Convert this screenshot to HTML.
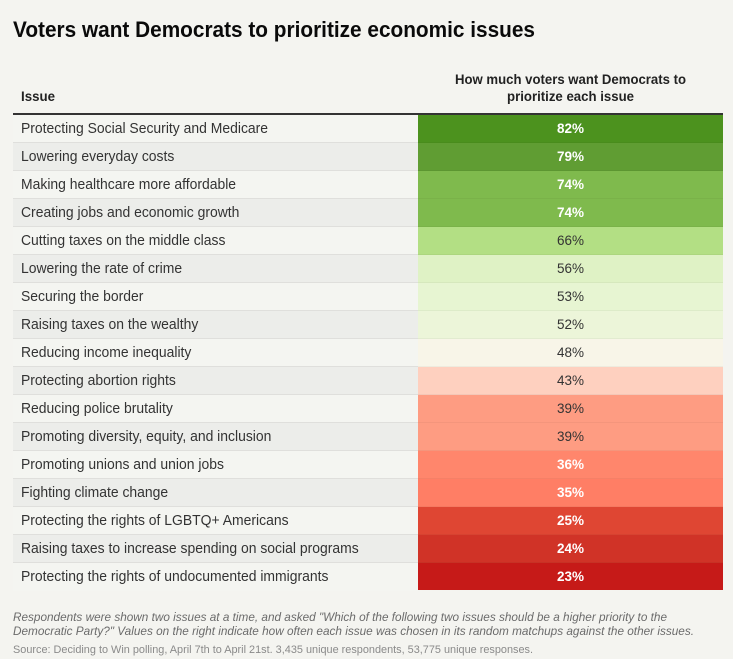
<!DOCTYPE html>
<html lang="en">
<head>
<meta charset="utf-8">
<title>Voters want Democrats to prioritize economic issues</title>
<style>
html,body{margin:0;padding:0;background:#f4f4f0;width:733px;height:659px;overflow:hidden}
svg{display:block;font-family:"Liberation Sans",Arial,sans-serif}
</style>
</head>
<body>
<svg id="chart" xmlns="http://www.w3.org/2000/svg" width="733" height="659" viewBox="0 0 733 659">
  <text x="13" y="37" font-size="22" font-weight="700" fill="#0a0a0a" textLength="522" lengthAdjust="spacingAndGlyphs">Voters want Democrats to prioritize economic issues</text>
  <text x="21" y="101" font-size="14" font-weight="700" fill="#222" textLength="34" lengthAdjust="spacingAndGlyphs">Issue</text>
  <text x="570.5" y="84" text-anchor="middle" font-size="14" font-weight="700" fill="#222" textLength="231" lengthAdjust="spacingAndGlyphs">How much voters want Democrats to</text>
  <text x="570.5" y="101" text-anchor="middle" font-size="14" font-weight="700" fill="#222" textLength="127" lengthAdjust="spacingAndGlyphs">prioritize each issue</text>
  <g id="rows"></g>
  <rect x="13" y="113" width="710" height="2" fill="#333"></rect>
  <text x="13" y="621" font-size="12" font-style="italic" fill="#6b6b6b" textLength="654" lengthAdjust="spacingAndGlyphs">Respondents were shown two issues at a time, and asked "Which of the following two issues should be a higher priority to the</text>
  <text x="13" y="635" font-size="12" font-style="italic" fill="#6b6b6b" textLength="681" lengthAdjust="spacingAndGlyphs">Democratic Party?" Values on the right indicate how often each issue was chosen in its random matchups against the other issues.</text>
  <text x="13" y="653" font-size="11" fill="#8a8a8a" textLength="520" lengthAdjust="spacingAndGlyphs">Source: Deciding to Win polling, April 7th to April 21st. 3,435 unique respondents, 53,775 unique responses.</text>
</svg>
<script>
const issues = [
  "Protecting Social Security and Medicare",
  "Lowering everyday costs",
  "Making healthcare more affordable",
  "Creating jobs and economic growth",
  "Cutting taxes on the middle class",
  "Lowering the rate of crime",
  "Securing the border",
  "Raising taxes on the wealthy",
  "Reducing income inequality",
  "Protecting abortion rights",
  "Reducing police brutality",
  "Promoting diversity, equity, and inclusion",
  "Promoting unions and union jobs",
  "Fighting climate change",
  "Protecting the rights of LGBTQ+ Americans",
  "Raising taxes to increase spending on social programs",
  "Protecting the rights of undocumented immigrants"
];
const shares = [82, 79, 74, 74, 66, 56, 53, 52, 48, 43, 39, 39, 36, 35, 25, 24, 23];
const colorDomain = [23, 24, 25, 35, 39, 43, 48, 52, 53, 56, 66, 74, 79, 82];
const colorRange = ["#c61a18", "#d03327", "#df4633", "#ff7e65", "#fe9c82", "#fed0bf", "#f8f5e8", "#ecf5d9", "#e7f5d2", "#dff2c5", "#b3df84", "#7fba4d", "#609d33", "#4c921e"];

const NS = "http://www.w3.org/2000/svg";
const tableTop = 115;
const rowPitch = 28;
const leftX = 13;
const splitX = 418;
const rightX = 723;
const labelX = 21;
const labelScale = 0.961;
const labelSize = 14.5;

function rowY(i) { return tableTop + i * rowPitch; }
function hexToRgb(h) {
  return [parseInt(h.slice(1, 3), 16), parseInt(h.slice(3, 5), 16), parseInt(h.slice(5, 7), 16)];
}
function colorFor(v) {
  if (v <= colorDomain[0]) return colorRange[0];
  const last = colorDomain.length - 1;
  if (v >= colorDomain[last]) return colorRange[last];
  let k = 0;
  while (colorDomain[k + 1] < v) k++;
  const t = (v - colorDomain[k]) / (colorDomain[k + 1] - colorDomain[k]);
  const a = hexToRgb(colorRange[k]);
  const b = hexToRgb(colorRange[k + 1]);
  return "rgb(" + a.map(function (c, n) { return Math.round(c + (b[n] - c) * t); }).join(",") + ")";
}
function textColorFor(v) {
  return (v >= 70 || v < 38) ? "#ffffff" : "#333333";
}

const host = document.getElementById("rows");
issues.forEach(function (issue, i) {
  const y = rowY(i);
  const value = shares[i];

  const bg = document.createElementNS(NS, "rect");
  
  
  bg.setAttribute("x", leftX);
  bg.setAttribute("y", y);
  bg.setAttribute("width", splitX - leftX);
  bg.setAttribute("height", rowPitch);
  bg.setAttribute("fill", i % 2 ? "#ecedea" : "#f4f5f1");
  host.appendChild(bg);

  const rule = document.createElementNS(NS, "rect");
  
  
  rule.setAttribute("x", leftX);
  rule.setAttribute("y", y + rowPitch - 1);
  rule.setAttribute("width", splitX - leftX);
  rule.setAttribute("height", 1);
  rule.setAttribute("fill", i === issues.length - 1 ? "none" : "#dfdfdc");
  host.appendChild(rule);

  const cell = document.createElementNS(NS, "rect");
  
  
  cell.setAttribute("x", splitX);
  cell.setAttribute("y", y);
  cell.setAttribute("width", rightX - splitX);
  cell.setAttribute("height", rowPitch - (i === issues.length - 1 ? 1 : 0));
  cell.setAttribute("fill", colorFor(value));
  host.appendChild(cell);

  const cellRule = document.createElementNS(NS, "rect");
  
  
  cellRule.setAttribute("x", splitX);
  cellRule.setAttribute("y", y + rowPitch - 1);
  cellRule.setAttribute("width", rightX - splitX);
  cellRule.setAttribute("height", 1);
  cellRule.setAttribute("fill", i === issues.length - 1 ? "none" : "#000000");
  cellRule.setAttribute("fill-opacity", "0.04");
  host.appendChild(cellRule);

  const label = document.createElementNS(NS, "text");
  
  
  label.setAttribute("transform", "translate(" + labelX + " " + (y + 18) + ") scale(" + labelScale + " 1)");
  label.setAttribute("font-size", labelSize);
  label.setAttribute("fill", "#333333");
  label.textContent = issue;
  host.appendChild(label);

  const num = document.createElementNS(NS, "text");
  
  
  num.setAttribute("x", (splitX + rightX) / 2);
  num.setAttribute("y", y + 18);
  num.setAttribute("text-anchor", "middle");
  num.setAttribute("font-size", 13.5);
  const light = textColorFor(value) === "#ffffff";
  num.setAttribute("font-weight", light ? 700 : 400);
  num.setAttribute("fill", textColorFor(value));
  num.textContent = value + "%";
  host.appendChild(num);
});
</script>
</body>
</html>
